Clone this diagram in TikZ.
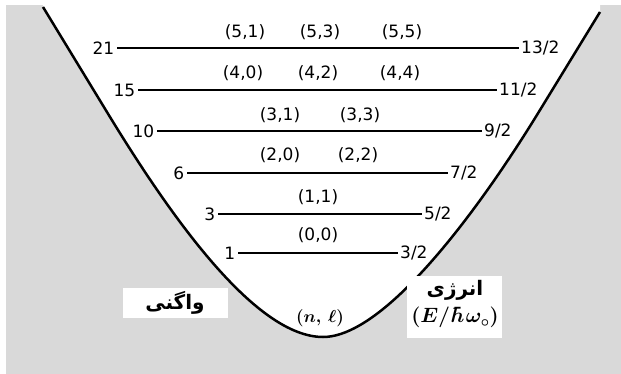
\documentclass[tikz,border=0pt]{standalone}
\usepackage{fontspec}
\setmainfont{DejaVu Sans}
\newfontfamily\farsi[Script=Arabic]{DejaVu Sans}
\TeXXeTstate=1
\usepackage{tikz}
\usetikzlibrary{positioning}

\tikzset{
    stateline/.style={line width=2pt},
    degnum/.style={anchor=east, inner sep=2.5pt, font=\fontsize{17}{20}\selectfont},
    ennum/.style={anchor=west, inner sep=2pt, font=\fontsize{17}{20}\selectfont},
    qnum/.style={inner sep=1pt, font=\fontsize{17}{20}\selectfont},
    farsibox/.style={inner sep=1pt, font=\farsi\bfseries\fontsize{20}{24}\selectfont}
}

\begin{document}
\begin{tikzpicture}[x=1pt, y=-1pt]

\useasboundingbox (0,0) rectangle (621,374);

% Zemine
\fill[black!15] (6,5) rectangle (621,374);

% Dakhel-e chah
\fill[
    white
] (43,7) -- (110,117)
    .. controls (170,215) and (255,337) .. (323,337)
    .. controls (385,337) and (479,210) .. (540,110)
    -- (600,12) -- (600,0) -- (43,0) -- cycle;

% Pansiel
\draw[
    line width=2.5pt,
    line join=round
] (43,7) -- (110,117)
    .. controls (170,215) and (255,337) .. (323,337)
    .. controls (385,337) and (479,210) .. (540,110)
    -- (600,12);

% Tarazha: vagani chap, energy rast
\node[degnum] (g21) at (117,48) {21};
\node[ennum]  (e13) at (519,48) {13/2};
\draw[stateline] (g21) -- (e13);

\node[degnum] (g15) at (138,90) {15};
\node[ennum]  (e11) at (497,90) {11/2};
\draw[stateline] (g15) -- (e11);

\node[degnum] (g10) at (157,131) {10};
\node[ennum]  (e9) at (482,131) {9/2};
\draw[stateline] (g10) -- (e9);

\node[degnum] (g6) at (187,173) {6};
\node[ennum]  (e7) at (448,173) {7/2};
\draw[stateline] (g6) -- (e7);

\node[degnum] (g3) at (218,214) {3};
\node[ennum]  (e5) at (422,214) {5/2};
\draw[stateline] (g3) -- (e5);

\node[degnum] (g1) at (238,253) {1};
\node[ennum]  (e3) at (398,253) {3/2};
\draw[stateline] (g1) -- (e3);

% (n,l)
\node[qnum] (q51) at (245,32) {(5,1)};
\node[qnum] (q53) at (320,32) {(5,3)};
\node[qnum] (q55) at (402,32) {(5,5)};

\node[qnum] (q40) at (243,73) {(4,0)};
\node[qnum] (q42) at (318,73) {(4,2)};
\node[qnum] (q44) at (400,73) {(4,4)};

\node[qnum] (q31) at (280,115) {(3,1)};
\node[qnum] (q33) at (360,115) {(3,3)};

\node[qnum] (q20) at (280,155) {(2,0)};
\node[qnum] (q22) at (358,155) {(2,2)};

\node[qnum] (q11) at (318,197) {(1,1)};

\node[qnum] (q00) at (318,235) {(0,0)};

\node[
    inner sep=1pt,
    font=\fontsize{17}{20}\selectfont\boldmath
] (qnl) at (320,318) {$(n,\,\ell)$};

% Onvanha
\fill[white] (123,288) rectangle (228,318);
\node[farsibox] (vagani) at (175,303) {\beginR واگنی\endR};

\fill[white] (407,276) rectangle (502,338);
\node[farsibox] (energy) at (455,290) {\beginR انرژی\endR};
\node[
    inner sep=1pt,
    below=5pt of energy,
    font=\fontsize{20}{24}\selectfont\boldmath
] (enunit) {$(E/\mkern2mu\hbar\mkern1mu\omega_{\circ})$};

\end{tikzpicture}
\end{document}
